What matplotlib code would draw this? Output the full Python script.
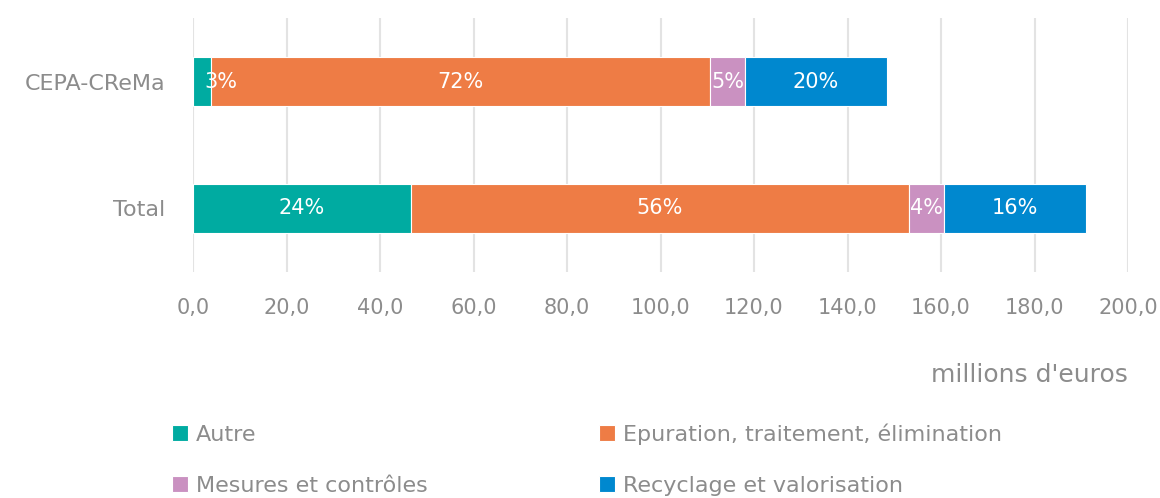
import matplotlib.pyplot as plt
import numpy as np

categories = ['Total', 'CEPA-CReMa']
series = ['Autre', 'Epuration, traitement, élimination', 'Mesures et contrôles', 'Recyclage et valorisation']
autre = [46.6, 3.9]
epuration = [106.6, 106.7]
mesures = [7.4, 7.5]
recyclage = [30.4, 30.3]
colors = ['#00ABA1', '#EE7C45', '#CA91C1', '#0088CF']

plt.rcParams['font.family'] = ['DejaVu Sans']
grey = '#8C8C8C'

fig = plt.figure(figsize=(11.6, 4.98), dpi=100)
ax = fig.add_axes([193/1160, 1-272/498, 935/1160, 254/498])

data = [autre, epuration, mesures, recyclage]
totals = np.sum(data, axis=0)
y = np.arange(len(categories))
left = np.zeros(len(categories))
handles = []
for vals, name, c in zip(data, series, colors):
    vals = np.array(vals)
    b = ax.barh(y, vals, left=left, height=0.39, color=c, edgecolor='white', linewidth=0.8, label=name)
    handles.append(b)
    for yi, l, v, t in zip(y, left, vals, totals):
        # label of a very thin segment at the left edge is pushed inside the plot
        if l == 0 and v < 5:
            ax.text(l + 2.5, yi, '{:.0f}%'.format(v/t*100), ha='left', va='center',
                    color='white', fontsize=15)
        else:
            ax.text(l + v/2, yi, '{:.0f}%'.format(v/t*100), ha='center', va='center',
                    color='white', fontsize=15)
    left = left + vals

ax.set_xlim(0, 200)
ax.set_ylim(-0.5, 1.5)
ax.set_xticks(np.arange(0, 201, 20))
ax.set_xticklabels(['{:.1f}'.format(v).replace('.', ',') for v in np.arange(0, 201, 20)])
ax.set_yticks(y)
ax.set_yticklabels(categories)
ax.tick_params(axis='x', length=0, pad=19, labelsize=15, colors=grey)
ax.tick_params(axis='y', length=0, pad=20, labelsize=16, colors=grey)
ax.grid(axis='x', color='#E3E3E3', linewidth=1.5)
ax.set_axisbelow(True)
for s in ax.spines.values():
    s.set_visible(False)

fig.text(1128/1160, 1-375/498, "millions d'euros", ha='right', va='center', fontsize=18, color=grey)

order = [0, 2, 1, 3]
leg = fig.legend([handles[i] for i in order], [series[i] for i in order], ncol=2,
                 loc='upper left', bbox_to_anchor=(172/1160, 1-423/498), frameon=False,
                 fontsize=16, handlelength=0.72, handleheight=0.72, handletextpad=0.36,
                 columnspacing=7.7, labelspacing=1.42, labelcolor=grey,
                 borderaxespad=0, borderpad=0)

fig.savefig('out.png', dpi=100)
